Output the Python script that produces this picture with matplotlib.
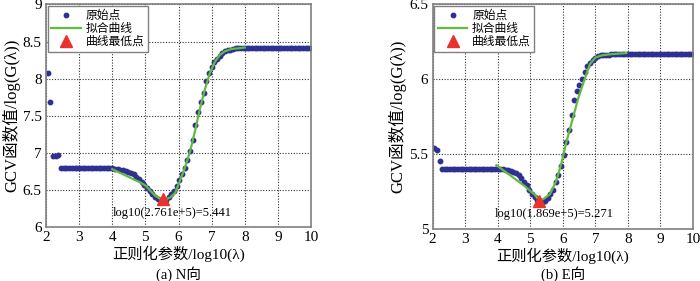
import numpy as np
import matplotlib
matplotlib.use("Agg")
import matplotlib.pyplot as plt

plt.rcParams["font.family"] = ["Liberation Serif", "Noto Sans CJK SC"]

# regularization sweep grid, log10(lambda)
log_lam = np.linspace(2.05, 10, 99)

# N direction: GCV values at each grid point
gcv_n = [
    8.08, 7.69, 6.96, 6.96, 6.97, 6.80, 6.80, 6.79, 6.79, 6.79,
    6.79, 6.79, 6.79, 6.79, 6.79, 6.79, 6.79, 6.79, 6.79, 6.79,
    6.79, 6.79, 6.79, 6.79, 6.79, 6.785, 6.78, 6.775, 6.77, 6.76,
    6.745, 6.73, 6.71, 6.68, 6.65, 6.61, 6.57, 6.53, 6.48, 6.44,
    6.40, 6.38, 6.36, 6.36, 6.37, 6.40, 6.44, 6.49, 6.56, 6.64,
    6.71, 6.80, 6.91, 7.03, 7.18, 7.38, 7.55, 7.69, 7.81, 7.97,
    8.07, 8.16, 8.22, 8.27, 8.31, 8.35, 8.37, 8.38, 8.39, 8.40,
    8.41, 8.41, 8.42, 8.42, 8.42, 8.42, 8.42, 8.42, 8.42, 8.42,
    8.42, 8.42, 8.42, 8.42, 8.42, 8.42, 8.42, 8.42, 8.42, 8.42,
    8.42, 8.42, 8.42, 8.42, 8.42, 8.42, 8.42, 8.42, 8.42,
]

# E direction: GCV values at each grid point
gcv_e = [
    5.54, 5.53, 5.45, 5.40, 5.40, 5.40, 5.40, 5.40, 5.40, 5.40,
    5.40, 5.40, 5.40, 5.40, 5.40, 5.40, 5.40, 5.40, 5.40, 5.40,
    5.40, 5.40, 5.40, 5.40, 5.40, 5.40, 5.40, 5.395, 5.39, 5.385,
    5.38, 5.37, 5.36, 5.34, 5.315, 5.29, 5.26, 5.23, 5.21, 5.195,
    5.18, 5.175, 5.185, 5.205, 5.23, 5.26, 5.31, 5.36, 5.42, 5.49,
    5.58, 5.66, 5.76, 5.86, 5.92, 5.96, 6.00, 6.05, 6.09, 6.11,
    6.13, 6.145, 6.155, 6.16, 6.16, 6.165, 6.165, 6.17, 6.17, 6.17,
    6.17, 6.17, 6.17, 6.17, 6.17, 6.17, 6.17, 6.17, 6.17, 6.17,
    6.17, 6.17, 6.17, 6.17, 6.17, 6.17, 6.17, 6.17, 6.17, 6.17,
    6.17, 6.17, 6.17, 6.17, 6.17, 6.17, 6.17, 6.17, 6.17,
]

# fitted curves
fit_x_n = [4.0, 4.85, 5.0, 5.15, 5.3, 5.45, 5.55, 5.65, 5.75, 5.9, 6.05, 6.2,
           6.35, 6.5, 6.65, 6.8, 6.95, 7.1, 7.25, 7.4, 7.6, 8.0]
fit_y_n = [6.78, 6.60, 6.56, 6.49, 6.42, 6.38, 6.37, 6.38, 6.40, 6.46, 6.63, 6.81,
           7.02, 7.30, 7.60, 7.86, 8.08, 8.23, 8.32, 8.37, 8.40, 8.42]
fit_x_e = [3.96, 4.83, 5.15, 5.27, 5.39, 5.6, 5.8, 5.96, 6.11, 6.26, 6.47, 6.67,
           6.83, 7.0, 7.2, 7.5, 7.95]
fit_y_e = [5.425, 5.285, 5.225, 5.19, 5.197, 5.23, 5.32, 5.44, 5.58, 5.70, 5.87, 6.00,
           6.10, 6.145, 6.16, 6.168, 6.175]

# minimum points and labels
min_n = (5.53, 6.375)
min_e = (5.27, 5.186)
label_n = "log10(2.761e+5)=5.441"
label_e = "log10(1.869e+5)=5.271"

DOT = "#2E3192"
GREEN = "#62BB3C"
RED = "#E8322B"


def draw_panel(ax, y, fx, fy, mn, label, label_pos, ylim, yticks, yticklabels):
    ax.plot(log_lam, y, linestyle="none", marker="o", markersize=3.2,
            color=DOT, label="原始点")
    ax.plot(fx, fy, color=GREEN, linewidth=1.6, label="拟合曲线")
    ax.plot(mn[0], mn[1], linestyle="none", marker="^", markersize=8,
            color=RED, label="曲线最低点")
    ax.text(label_pos[0], label_pos[1], label, fontsize=9, va="center")
    ax.set_xlim(2, 10)
    ax.set_ylim(*ylim)
    ax.set_xticks(range(2, 11))
    ax.set_yticks(yticks)
    ax.set_yticklabels(yticklabels)
    ax.tick_params(labelsize=11, length=0, pad=3)
    ax.grid(True, linestyle=(0, (1, 1.5)), color="#333333", linewidth=0.8)
    for s in ax.spines.values():
        s.set_color("#808080")
        s.set_linewidth(1.2)
    ax.set_xlabel("正则化参数/log10(λ)", fontsize=11, labelpad=1)
    ax.set_ylabel("GCV函数值/log(G(λ))", fontsize=12, labelpad=2)
    leg = ax.legend(loc="upper left", fontsize=8.5, fancybox=False,
                    borderaxespad=0.15, labelspacing=0.1, borderpad=0.3,
                    handlelength=2.5, handletextpad=0.4, framealpha=1)
    leg.get_frame().set_edgecolor("#808080")
    leg.get_frame().set_linewidth(1.0)


fig = plt.figure(figsize=(7, 2.81), dpi=100)
ax1 = fig.add_axes([0.0657, 0.192, 0.3786, 0.792])
ax2 = fig.add_axes([0.618, 0.186, 0.372, 0.798])

draw_panel(ax1, gcv_n, fit_x_n, fit_y_n, min_n, label_n, (4.0, 6.19),
           (6, 9), [6, 6.5, 7, 7.5, 8, 8.5, 9],
           ["6", "6.5", "7", "7.5", "8", "8.5", "9"])
draw_panel(ax2, gcv_e, fit_x_e, fit_y_e, min_e, label_e, (3.9, 5.10),
           (5, 6.5), [5, 5.5, 6, 6.5], ["5", "5.5", "6", "6.5"])

fig.text(0.255, 0.026, "(a) N向", fontsize=10.5, ha="center", va="center")
fig.text(0.804, 0.024, "(b) E向", fontsize=10.5, ha="center", va="center")

fig.savefig("out.png", dpi=100)
